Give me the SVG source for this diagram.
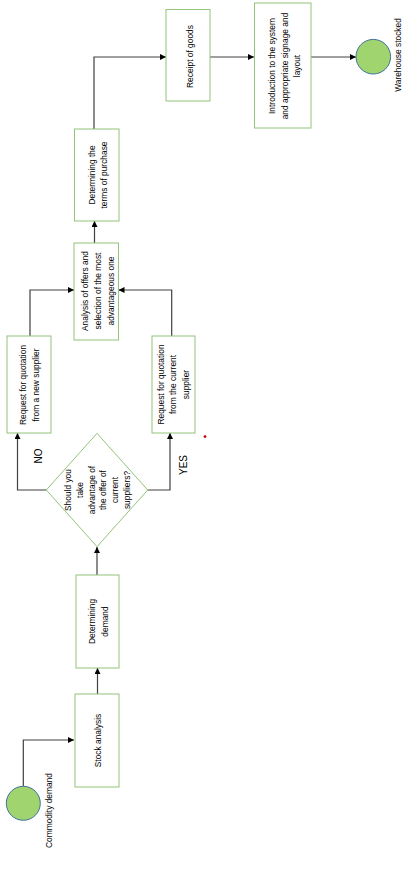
<svg xmlns="http://www.w3.org/2000/svg" width="407" height="869" viewBox="0 0 407 869">
<style>
.box{fill:#ffffff;stroke:#92c47a;stroke-width:1}
.ev{fill:#9fd46f;stroke:#41719c;stroke-width:1}
.t{font-family:"Liberation Sans",Arial,sans-serif;font-size:8.4px;fill:#000;text-anchor:middle;dominant-baseline:central}
.c{fill:none;stroke:#404040;stroke-width:1.2}
</style>
<defs>
<marker id="ah" markerUnits="userSpaceOnUse" markerWidth="7" markerHeight="7" refX="6" refY="3" orient="auto">
<path d="M0,0 L6,3 L0,6 z" fill="#000"/>
</marker>
</defs>
<rect width="407" height="869" fill="#ffffff"/>
<g id="connectors">
<path class="c" d="M23.3,786 V740 H74" marker-end="url(#ah)"/>
<path class="c" d="M97.5,694 V668" marker-end="url(#ah)"/>
<path class="c" d="M97,575 V547" marker-end="url(#ah)"/>
<path class="c" d="M46.5,490 H17.5 V433" marker-end="url(#ah)"/>
<path class="c" d="M147.5,490 H170 V433" marker-end="url(#ah)"/>
<path class="c" d="M30,336 V290 H74" marker-end="url(#ah)"/>
<path class="c" d="M171.7,336 V290 H118.5" marker-end="url(#ah)"/>
<path class="c" d="M94.5,243 V221" marker-end="url(#ah)"/>
<path class="c" d="M94,129 V57 H166" marker-end="url(#ah)"/>
<path class="c" d="M210,57 H254" marker-end="url(#ah)"/>
<path class="c" d="M311,57 H356" marker-end="url(#ah)"/>
<text class="t" x="38" y="456" transform="rotate(-90 38 456)" style="font-size:10px">NO</text>
<text class="t" x="183" y="465" transform="rotate(-90 183 465)" style="font-size:10px">YES</text>
</g>
<g id="commodity-demand">
<circle class="ev" cx="23.3" cy="803.3" r="17"/>
<text class="t" x="49" y="810.5" transform="rotate(-90 49 810.5)">Commodity demand</text>
</g>
<g id="stock-analysis">
<rect class="box" x="75" y="694" width="44" height="93"/>
<text class="t" x="97.5" y="740.5" transform="rotate(-90 97.5 740.5)">Stock analysis</text>
</g>
<g id="determining-demand">
<rect class="box" x="76" y="575" width="43" height="93"/>
<text class="t" x="91.5" y="621.5" transform="rotate(-90 91.5 621.5)">Determining</text>
<text class="t" x="104.5" y="621.5" transform="rotate(-90 104.5 621.5)">demand</text>
</g>
<g id="decision">
<polygon class="box" points="97,433.3 147.7,490 97,546.7 46.3,490"/>
<text class="t" x="68.3" y="490" transform="rotate(-90 68.3 490)">Should you</text>
<text class="t" x="80" y="490" transform="rotate(-90 80 490)">take</text>
<text class="t" x="91.7" y="490" transform="rotate(-90 91.7 490)">advantage of</text>
<text class="t" x="103.3" y="490" transform="rotate(-90 103.3 490)">the offer of</text>
<text class="t" x="115" y="490" transform="rotate(-90 115 490)">current</text>
<text class="t" x="127" y="490" transform="rotate(-90 127 490)">suppliers?</text>
</g>
<g id="request-new">
<rect class="box" x="7" y="336" width="44" height="97"/>
<text class="t" x="22.5" y="385" transform="rotate(-90 22.5 385)">Request for quotation</text>
<text class="t" x="35.5" y="385" transform="rotate(-90 35.5 385)">from a new supplier</text>
</g>
<g id="request-current">
<rect class="box" x="152" y="336" width="43" height="97"/>
<text class="t" x="160.5" y="384.5" transform="rotate(-90 160.5 384.5)">Request for quotation</text>
<text class="t" x="173.3" y="384.5" transform="rotate(-90 173.3 384.5)">from the current</text>
<text class="t" x="186.3" y="384.5" transform="rotate(-90 186.3 384.5)">supplier</text>
</g>
<g id="analysis">
<rect class="box" x="74" y="243" width="44.5" height="97"/>
<text class="t" x="85" y="291" transform="rotate(-90 85 291)">Analysis of offers and</text>
<text class="t" x="98" y="291" transform="rotate(-90 98 291)">selection of the most</text>
<text class="t" x="111" y="291" transform="rotate(-90 111 291)">advantageous one</text>
</g>
<g id="terms">
<rect class="box" x="74.5" y="129" width="44.5" height="92"/>
<text class="t" x="91.5" y="175" transform="rotate(-90 91.5 175)">Determining the</text>
<text class="t" x="104.3" y="175" transform="rotate(-90 104.3 175)">terms of purchase</text>
</g>
<g id="receipt">
<rect class="box" x="166" y="9.5" width="44" height="91.5"/>
<text class="t" x="189.5" y="56.5" transform="rotate(-90 189.5 56.5)">Receipt of goods</text>
</g>
<g id="introduction">
<rect class="box" x="254.5" y="3" width="56.5" height="125"/>
<text class="t" x="271.5" y="66" transform="rotate(-90 271.5 66)">Introduction to the system</text>
<text class="t" x="284.5" y="66" transform="rotate(-90 284.5 66)">and appropriate signage and</text>
<text class="t" x="297" y="66" transform="rotate(-90 297 66)">layout</text>
</g>
<g id="warehouse-stocked">
<circle class="ev" cx="373.3" cy="56.7" r="17.3"/>
<text class="t" x="398" y="55" transform="rotate(-90 398 55)">Warehouse stocked</text>
</g>
<circle cx="205" cy="436.6" r="1.4" fill="#d40000"/>
</svg>
